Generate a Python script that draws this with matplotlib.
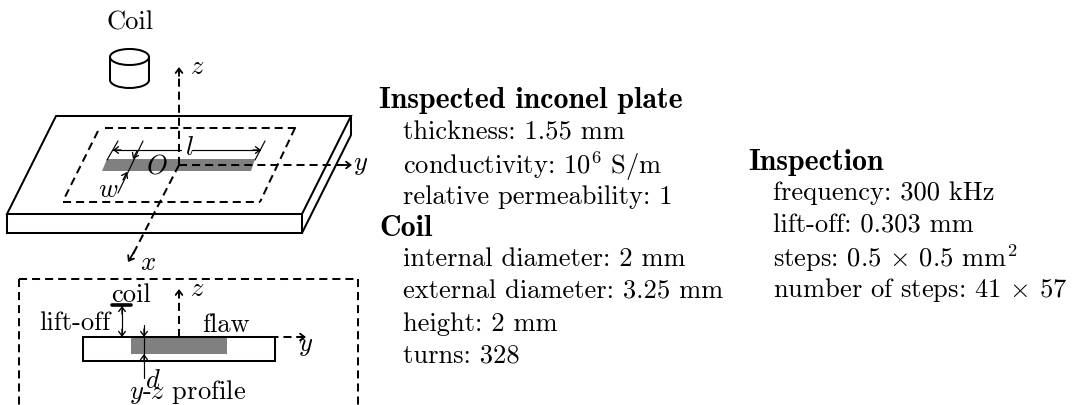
import numpy as np
import matplotlib
matplotlib.use("Agg")
import matplotlib.pyplot as plt
from matplotlib.patches import Polygon, Arc

plt.rcParams['mathtext.fontset'] = 'cm'
plt.rcParams['font.family'] = ['cmr10', 'DejaVu Serif']
plt.rcParams['axes.unicode_minus'] = False
plt.rcParams['lines.scale_dashes'] = False

# text content
plate_title = "Inspected inconel plate"
plate_lines = ["thickness: 1.55 mm", r"conductivity: $\mathrm{10^6}$ S/m", "relative permeability: 1"]
coil_title = "Coil"
coil_lines = ["internal diameter: 2 mm", "external diameter: 3.25 mm", "height: 2 mm", "turns: 328"]
insp_title = "Inspection"
insp_lines = ["frequency: 300 kHz", "lift-off: 0.303 mm", r"steps: 0.5 $\times$ 0.5 mm$^2$",
              r"number of steps: 41 $\times$ 57"]

# schematic outline vertices
plate_top = [(56, 116), (351, 116), (302, 214), (7, 214)]
plate_front = [(7, 214), (7, 233), (302, 233), (302, 214)]
plate_side = [(351, 116), (351, 135), (302, 233)]
flaw_top = [(107, 159), (255, 159), (251, 171), (102, 171)]
inner_top = [(105, 128), (297, 128)]
inner_bottom = [(63, 202), (260, 202)]
inner_left = [(98, 131), (65, 197)]
inner_right = [(295, 128), (260, 202)]
z_axis = [(179, 165), (179, 70)]
y_axis = [(179, 165), (350, 165)]
x_axis = [(179, 165), (130, 260)]
prof_box_top = [(19, 279), (358, 279)]
prof_box_left = [(19, 279), (19, 405)]
prof_box_right = [(358, 279), (358, 405)]
prof_plate = [(83, 337), (275, 337), (275, 361), (83, 361)]
prof_flaw = [(131, 337), (227, 337), (227, 354), (131, 354)]
prof_z = [(179, 337), (179, 291)]
prof_y = [(179, 337), (304, 337)]

BLACK = "black"
THICK, THIN = 1.45, 0.85
DASH = (0, (5.8, 3.6))
SIZE = 19.1
BOLD_SIZE = 21.5

fig = plt.figure(figsize=(10.73, 4.05), dpi=100)
ax = fig.add_axes([0, 0, 1, 1])
ax.set_xlim(0, 1073)
ax.set_ylim(405, 0)
ax.axis("off")


def line(pts, lw=THICK, ls="-", z=3):
    xs, ys = zip(*pts)
    ax.plot(xs, ys, color=BLACK, lw=lw, ls=ls, solid_capstyle="round", dash_capstyle="butt", zorder=z)


def head(tip, frm, lw=THIN + 0.1):
    ax.annotate("", xy=tip, xytext=frm, zorder=5,
                arrowprops=dict(arrowstyle="->,head_length=0.32,head_width=0.24", lw=lw,
                                color=BLACK, shrinkA=0, shrinkB=0))


def label(x, y, s, size=SIZE, **kw):
    ax.text(x, y, s, fontsize=size, ha=kw.pop("ha", "center"), va=kw.pop("va", "center"), color=BLACK, **kw)


# cylinder
ax.add_patch(Arc((129.5, 57), 39, 16, theta1=0, theta2=360, lw=THICK, color=BLACK))
ax.add_patch(Arc((129.5, 80), 39, 16, theta1=0, theta2=180, lw=THICK, color=BLACK))
line([(110, 57), (110, 80)])
line([(149, 57), (149, 80)])

# plate
ax.add_patch(Polygon(flaw_top, closed=True, fc="#808080", ec="none", zorder=1))
ax.add_patch(Polygon(plate_top, closed=True, fc="none", ec=BLACK, lw=THICK, zorder=3))
ax.add_patch(Polygon(plate_front, closed=False, fc="none", ec=BLACK, lw=THICK, zorder=3))
line(plate_side)
for seg in (inner_top, inner_bottom, inner_left, inner_right):
    line(seg, ls=DASH, lw=THICK)
for seg in (z_axis, y_axis, x_axis):
    line(seg, ls=DASH, lw=THICK)
head((179, 67), (179, 76), lw=1.3)
head((352, 165), (343, 165), lw=1.3)
head((128, 262), (134, 252), lw=1.3)

# l and w dimension marks
line([(107, 160), (118, 141)], lw=THIN)
line([(255, 160), (265, 141)], lw=THIN)
line([(113, 150), (181, 150)], lw=THIN)
line([(192, 150), (260, 150)], lw=THIN)
head((113, 150), (121, 150))
head((261, 150), (253, 150))
line([(143, 141), (118, 193)], lw=THIN)
head((133, 159), (137, 151))
head((127, 172), (123, 180))

label(130, 23, "Coil")
label(197, 67, "$z$")
label(361, 165, "$y$")
label(148, 263, "$x$")
label(189, 148, "$l$")
label(157, 166, "$O$")
label(108, 190, "$w$")

# y-z profile
for seg in (prof_box_top, prof_box_left, prof_box_right):
    line(seg, ls=DASH, lw=THICK)
ax.add_patch(Polygon(prof_flaw, closed=True, fc="#808080", ec="none", zorder=1))
ax.add_patch(Polygon(prof_plate, closed=True, fc="none", ec=BLACK, lw=THICK, zorder=3))
line(prof_z, ls=DASH, lw=THICK)
line(prof_y, ls=DASH, lw=THICK)
head((179, 289), (179, 298), lw=1.3)
head((306, 337), (297, 337), lw=1.3)
line([(112, 305), (131, 305)], lw=2.6)
line([(122, 306), (122, 337)], lw=THIN)
head((122, 306), (122, 314))
head((122, 337), (122, 329))
line([(144, 325), (144, 378)], lw=THIN)
head((144, 337), (144, 329))
head((144, 354), (144, 362))

label(131, 295, "coil")
label(75, 323, "lift-off")
label(226, 325, "flaw")
label(197, 289, "$z$")
label(306, 346, "$y$")
label(153, 381, "$d$")
label(188, 392, r"$y$-$z$ profile")

# text blocks
rows = [(379, 97, plate_title, True)]
rows += [(403, y, s, False) for y, s in zip((130, 162, 195), plate_lines)]
rows += [(379, 226, coil_title, True)]
rows += [(403, y, s, False) for y, s in zip((257, 289, 322, 353), coil_lines)]
rows += [(748, 159, insp_title, True)]
rows += [(773, y, s, False) for y, s in zip((191, 223, 255, 287), insp_lines)]
for x, y, s, bold in rows:
    ax.text(x, y, s, fontsize=BOLD_SIZE if bold else SIZE, ha="left", va="center_baseline", color=BLACK,
            family=["cmb10"] if bold else ["cmr10"])

fig.savefig("out.png", dpi=100)
